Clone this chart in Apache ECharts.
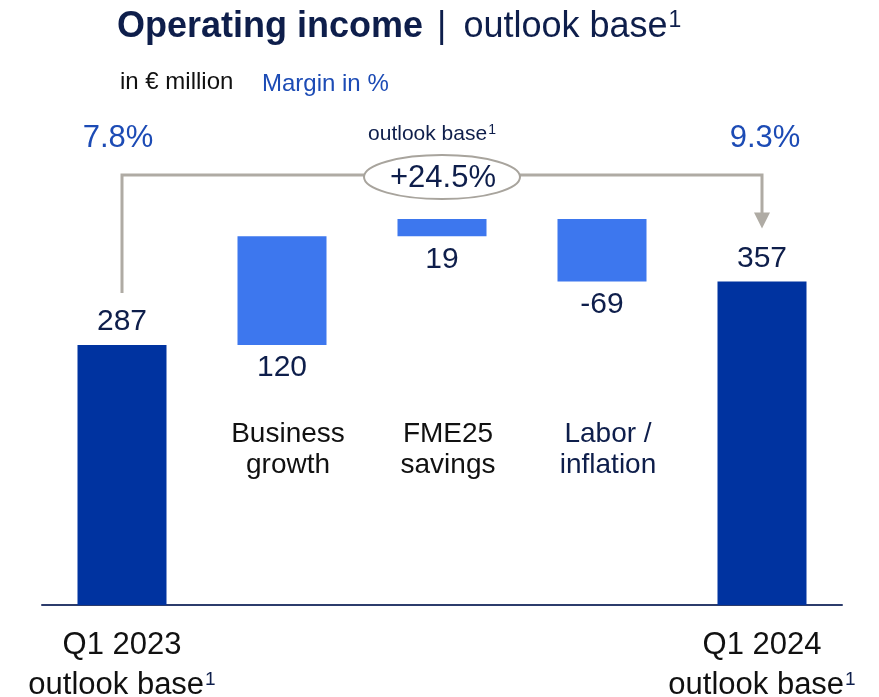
<!DOCTYPE html>
<html><head><meta charset="utf-8">
<script src="https://cdn.jsdelivr.net/npm/echarts@6.0.0/dist/echarts.min.js"></script>
<style>html,body{margin:0;padding:0;background:#fff}#c{width:879px;height:697px}</style>
</head><body><div id="c"></div>
<script>
// ---- data ----
const categories = ['Q1 2023\noutlook base¹', 'Business\ngrowth', 'FME25\nsavings', 'Labor /\ninflation', 'Q1 2024\noutlook base¹'];
const changes = [287, 120, 19, -69, 357];
const isTotal = [true, false, false, false, true];
const margins = ['7.8%', '9.3%'];
const growthLabel = '+24.5%';

// ---- styles ----
const FONT = '"Liberation Sans", Arial, Helvetica, sans-serif';
const DARK = '#0033a0';
const LIGHT = '#3d77ee';
const NAVY = '#0e1e4b';
const BLUE = '#1c4bb5';
const BLACK = '#111111';
const GRAY = '#afaba4';

// waterfall decomposition
let running = 0;
const base = [], height = [];
changes.forEach((v, i) => {
  if (isTotal[i]) { base.push(0); height.push(v); running = v; }
  else if (v >= 0) { base.push(running); height.push(v); running += v; }
  else { running += v; base.push(running); height.push(-v); }
});
const tops = base.map((b, i) => b + height[i]);

const chart = echarts.init(document.getElementById('c'), null, { renderer: 'canvas' });
chart.setOption({
  animation: false,
  backgroundColor: '#ffffff',
  grid: { left: 42, right: 37, top: 152, bottom: 92, containLabel: false, outerBoundsMode: 'none' },
  xAxis: {
    type: 'category', data: categories,
    axisLine: { lineStyle: { color: '#2c3c6c', width: 2 } },
    axisTick: { show: false },
    axisLabel: {
      interval: 0, margin: 20,
      formatter: (v, i) => isTotal[i] ? v.replace('¹', '{sup|1}') : '',
      fontFamily: FONT, fontSize: 31, color: BLACK, lineHeight: 40,
      rich: { sup: { fontFamily: FONT, fontSize: 19, color: NAVY, verticalAlign: 'top', padding: [5, 0, 0, 1] } }
    }
  },
  yAxis: { type: 'value', min: 0, max: 500, show: false, splitLine: { show: false } },
  series: [
    { type: 'bar', stack: 'w', barWidth: 89, data: base, itemStyle: { color: 'transparent' }, silent: true },
    {
      type: 'bar', stack: 'w', barWidth: 89,
      data: height.map((h, i) => ({
        value: h,
        itemStyle: { color: isTotal[i] ? DARK : LIGHT },
        label: { position: isTotal[i] ? 'top' : 'bottom' }
      })),
      label: { show: true, formatter: p => String(changes[p.dataIndex]), fontFamily: FONT, fontSize: 30, color: NAVY, distance: 8 }
    }
  ]
});

// ---- annotations derived from the axes ----
const px = i => chart.convertToPixel({ xAxisIndex: 0 }, i);
const py = v => chart.convertToPixel({ yAxisIndex: 0 }, v);
const n = categories.length;
const xL = px(0), xR = px(n - 1), xM = (xL + xR) / 2;
const yBracket = py(Math.max(...tops)) - 44;
const yLeftEnd = py(tops[0]) - 52;
const yArrowTip = py(tops[n - 1]) - 53;
const lineStyle = { stroke: GRAY, lineWidth: 3 };

const graphics = [
  // title
  { type: 'text', x: 117, y: 27, style: {
      text: '{b|Operating income}{r||}{o|outlook base}{s|1}', verticalAlign: 'middle',
      rich: {
        b: { fontFamily: FONT, fontSize: 36, fontWeight: 'bold', fill: NAVY },
        r: { fontFamily: FONT, fontSize: 36, fill: NAVY, padding: [0, 0, 0, 14] },
        o: { fontFamily: FONT, fontSize: 36, fill: NAVY, padding: [0, 0, 0, 17] },
        s: { fontFamily: FONT, fontSize: 23, fill: NAVY, verticalAlign: 'top', padding: [0, 0, 0, 1] }
      } } },
  { type: 'text', x: 120, y: 82, style: { text: 'in € million', font: '24px ' + FONT, fill: BLACK, verticalAlign: 'middle' } },
  { type: 'text', x: 262, y: 84, style: { text: 'Margin in %', font: '24px ' + FONT, fill: BLUE, verticalAlign: 'middle' } },
  // margins
  { type: 'text', x: xL - 4, y: 138, style: { text: margins[0], font: '31px ' + FONT, fill: BLUE, align: 'center', verticalAlign: 'middle' } },
  { type: 'text', x: xR + 3, y: 138, style: { text: margins[1], font: '31px ' + FONT, fill: BLUE, align: 'center', verticalAlign: 'middle' } },
  // bracket
  { type: 'polyline', shape: { points: [[xL, yLeftEnd], [xL, yBracket], [xR, yBracket], [xR, yArrowTip - 14]] }, style: Object.assign({ fill: null }, lineStyle) },
  { type: 'polygon', shape: { points: [[xR - 8, yArrowTip - 16], [xR + 8, yArrowTip - 16], [xR, yArrowTip]] }, style: { fill: GRAY } },
  { type: 'ellipse', shape: { cx: xM, cy: yBracket + 2, rx: 78, ry: 22 }, style: { fill: '#ffffff', stroke: '#a8a49d', lineWidth: 2 } },
  { type: 'text', x: xM + 1, y: yBracket + 3, style: { text: growthLabel, font: '31px ' + FONT, fill: NAVY, align: 'center', verticalAlign: 'middle' } },
  { type: 'text', x: xM - 10, y: 134, style: {
      text: 'outlook base{s|1}', align: 'center', verticalAlign: 'middle', fontFamily: FONT, fontSize: 21, fill: NAVY,
      rich: { s: { fontFamily: FONT, fontSize: 14, fill: NAVY, verticalAlign: 'top', padding: [0, 0, 0, 1] } } } }
];
// middle category labels
for (let i = 0; i < n; i++) {
  if (isTotal[i]) continue;
  graphics.push({ type: 'text', x: px(i) + 6, y: 450, style: {
    text: categories[i], font: '28px ' + FONT, lineHeight: 31, fill: i === 3 ? NAVY : BLACK,
    align: 'center', verticalAlign: 'middle' } });
}
chart.setOption({ graphic: graphics });
</script>
</body></html>
